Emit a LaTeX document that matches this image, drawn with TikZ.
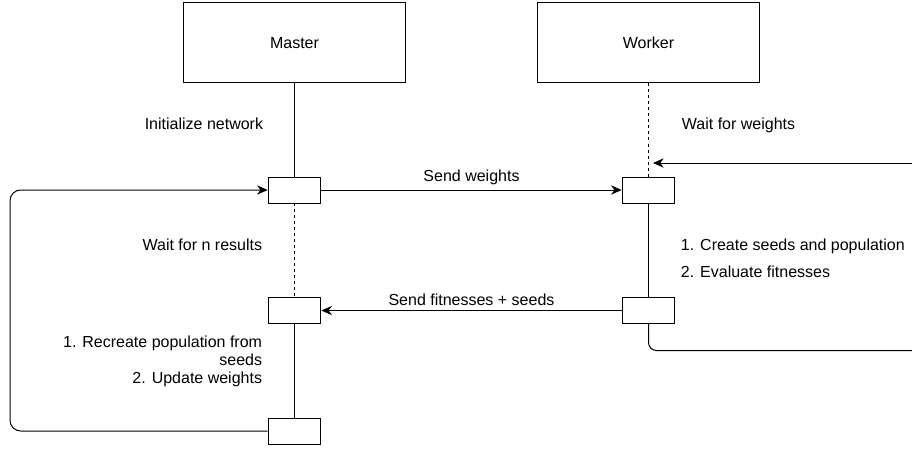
\documentclass[tikz,border=0pt]{standalone}
\usepackage{fontspec}
\setmainfont{Liberation Sans}
\usetikzlibrary{arrows.meta}

\begin{document}
\begin{tikzpicture}[x=0.75pt,y=-0.75pt,line width=0.75pt,
    font=\fontsize{12}{14.5}\selectfont,
    party/.style={draw,minimum width=167pt,minimum height=60pt},
    act/.style={draw,fill=white,inner sep=0pt,minimum width=39.5pt,minimum height=19.5pt},
    msg/.style={-{Stealth[length=8pt,width=7pt]}},
    life/.style={dash pattern=on 2.25pt off 2.25pt}]
  \useasboundingbox (0,0) rectangle (912,449);
  \node[party] (master) at (294.5,43) {Master};
  \node[party] (worker) at (648.5,43) {Worker};
  \coordinate (wwait) at (653,163);
  \coordinate (wfrom) at (912,163);
  \coordinate (wback) at (912,350.5);
  \coordinate (loop) at (10,0);
  % lifelines
  \draw (master) -- (294.5,177);
  \draw[life] (294.5,203) -- (294.5,297);
  \draw (294.5,323) -- (294.5,418);
  \draw[life] (worker) -- (648.5,177);
  \draw (648.5,203) -- (648.5,297);
  % activations
  \node[act] (m1) at (294.5,190) {};
  \node[act] (m2) at (294.5,310.5) {};
  \node[act] (m3) at (294.5,431) {};
  \node[act] (w1) at (648.5,190) {};
  \node[act] (w2) at (648.5,310.5) {};
  % messages
  \draw[msg] (m1) -- node[above=0pt] {Send weights} (w1);
  \draw[msg] (w2) -- node[above=0pt] {Send fitnesses + seeds} (m2);
  \draw[msg] (wfrom) -- (wwait);
  \draw[rounded corners=6pt] (w2.south) |- (wback);
  \draw[msg,rounded corners=8pt] (m3.west) -| (loop |- m1.west) -- (m1.west);
  % notes
  \node[anchor=east] (init) at (268,124) {Initialize network};
  \node[anchor=west] (wait) at (677,125) {Wait for weights};
  \node[anchor=east] (waitn) at (267,245) {Wait for n results};
  \node[anchor=west,align=left] (work) at (676,258.5)
    {1. Create seeds and population\\[5.75pt]2. Evaluate fitnesses};
  \node[anchor=east,align=right,font=\fontsize{12}{13.5}\selectfont] (update) at (267,361.5)
    {1. Recreate population from\\seeds\\2. Update weights};
\end{tikzpicture}
\end{document}
